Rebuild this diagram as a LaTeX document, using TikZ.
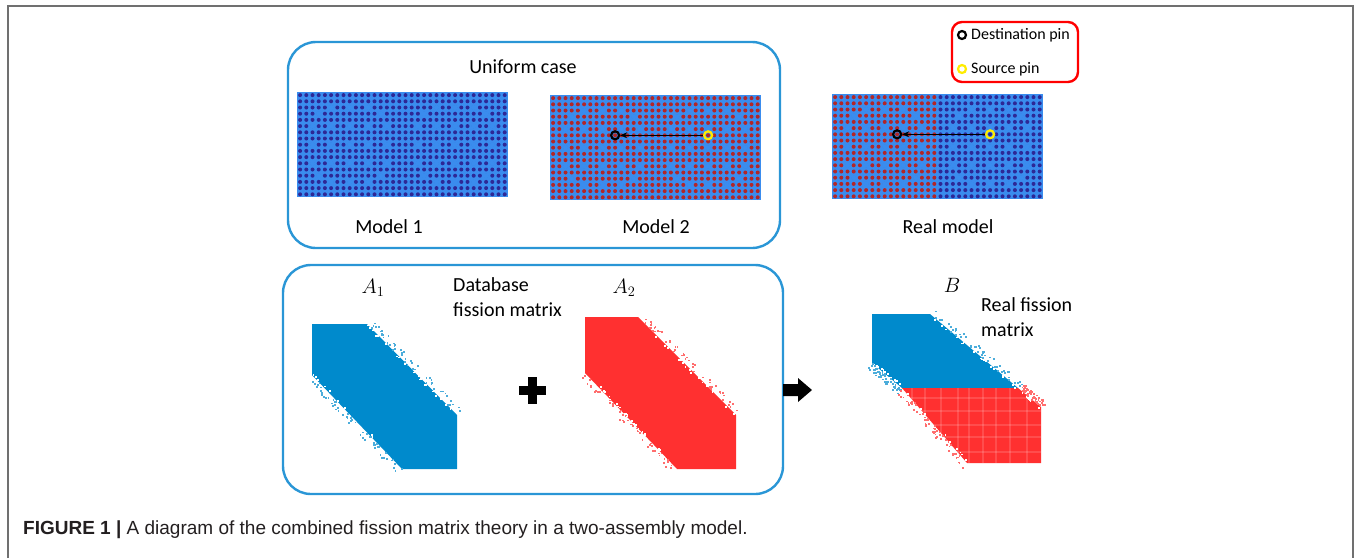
\documentclass[tikz,border=0pt]{standalone}
\usepackage{fontspec}
\setmainfont{Carlito}
\newfontfamily\capfont{Liberation Sans}
\usetikzlibrary{arrows.meta}

\definecolor{boxblue}{RGB}{42,150,214}
\definecolor{latticebg}{RGB}{58,140,238}
\definecolor{pinblue}{RGB}{45,40,150}
\definecolor{pinred}{RGB}{178,38,40}
\definecolor{matblue}{RGB}{0,138,204}
\definecolor{matred}{RGB}{255,48,48}
\definecolor{framegray}{RGB}{112,112,112}
\definecolor{pinyellow}{RGB}{255,236,0}
\definecolor{captext}{RGB}{35,31,32}

\newcommand{\pitch}{6.2}
\newcommand{\guidetubes}{2/5,2/8,2/11,3/3,3/13,5/2,5/5,5/8,5/11,5/14,8/2,8/5,8/8,8/11,8/14,11/2,11/5,11/8,11/11,11/14,13/3,13/13,14/5,14/8,14/11}

% two 17x17 assemblies side by side
\newcommand{\pinlattice}[4]{%
  \begin{scope}[shift={(#1,#2)}]
    \fill[latticebg] (0,0) rectangle ({34*\pitch},{17*\pitch});
    \foreach \r in {0,...,16}{
      \foreach \c in {0,...,16}{
        \fill[#3] ({(\c+0.5)*\pitch},{(\r+0.5)*\pitch}) circle (2pt);
        \fill[#4] ({(\c+17.5)*\pitch},{(\r+0.5)*\pitch}) circle (2pt);
      }}
    \foreach \r/\c in \guidetubes{
      \fill[latticebg] ({(\c+0.5)*\pitch},{(\r+0.5)*\pitch}) circle (2.6pt);
      \fill[latticebg] ({(\c+17.5)*\pitch},{(\r+0.5)*\pitch}) circle (2.6pt);
    }
  \end{scope}}

% ragged edge of a band: x1 y1 x2 y2 sign colour
\newcommand{\speckle}[6]{%
  \foreach \i in {1,...,70}{
    \pgfmathsetmacro\t{rnd}
    \pgfmathsetmacro\d{#5*(rnd*9-2)}
    \pgfmathsetmacro\px{#1+\t*(#3-#1)+\d*0.707}
    \pgfmathsetmacro\py{#2+\t*(#4-#2)-\d*0.707}
    \pgfmathparse{\d*#5>0 ? 1 : 0}
    \ifnum\pgfmathresult=1
      \fill[#6!70] (\px,\py) rectangle ++(1.8,1.8);
    \else
      \fill[white] (\px,\py) rectangle ++(1.8,1.8);
    \fi
  }}

\tikzset{
  groupbox/.style={draw=boxblue, line width=2.4pt, rounded corners=28pt},
  txt/.style={font=\fontsize{20}{25}\selectfont, inner sep=0pt, align=left},
  legtxt/.style={font=\fontsize{16}{18}\selectfont, inner sep=0pt, anchor=west},
  mathtxt/.style={font=\fontsize{20}{22}\selectfont, inner sep=0pt},
  dstpin/.style={circle, draw=black, line width=2.2pt, minimum size=8pt, inner sep=0pt},
  srcpin/.style={circle, draw=pinyellow, line width=2.2pt, minimum size=8pt, inner sep=0pt},
  pinarrow/.style={-{Stealth[length=7pt, width=6pt]}, line width=1.3pt}
}

\begin{document}
\begin{tikzpicture}[x=1pt, y=-1pt]
  \useasboundingbox (0,0) rectangle (1356,558);
  \pgfmathsetseed{7}

  % page frame
  \draw[framegray, line width=1.6pt] (8,558) -- (8,6) -- (1353,6) -- (1353,558);

  % group boxes
  \draw[groupbox] (288,42) rectangle (780,248);
  \draw[groupbox] (283,265) rectangle (783,494);

  % legend
  \draw[red, line width=2.4pt, rounded corners=10pt] (952,22) rectangle (1078,82);
  \node[dstpin] (legdst) at (962,35) {};
  \node[legtxt] (legdsttxt) at (971,35) {Destination pin};
  \node[srcpin] (legsrc) at (962,69) {};
  \node[legtxt] (legsrctxt) at (971,69) {Source pin};

  % lattices
  \node[txt] (uniform) at (523,67) {Uniform case};
  \pinlattice{297}{92}{pinblue}{pinblue}
  \pinlattice{550}{95}{pinred}{pinred}
  \pinlattice{832}{94}{pinred}{pinblue}
  \node[txt] (model1) at (389,227) {Model 1};
  \node[txt] (model2) at (656,227) {Model 2};
  \node[txt] (realmodel) at (948,227) {Real model};

  % source -> destination pins
  \node[dstpin] (dst2) at ({550+10.5*\pitch},{95+6.5*\pitch}) {};
  \node[srcpin] (src2) at ({550+25.5*\pitch},{95+6.5*\pitch}) {};
  \draw[pinarrow] (src2) -- (dst2);
  \node[dstpin] (dstR) at ({832+10.5*\pitch},{94+6.5*\pitch}) {};
  \node[srcpin] (srcR) at ({832+25.5*\pitch},{94+6.5*\pitch}) {};
  \draw[pinarrow] (srcR) -- (dstR);

  % database fission matrices
  \node[mathtxt] (a1) at (373,288) {$A_1$};
  \node[mathtxt] (a2) at (624,288) {$A_2$};
  \node[txt, anchor=west] (database) at (453,297) {Database\\fission matrix};

  \fill[matblue] (312,324) -- (367,324) -- (457,415) -- (457,469) -- (402,469) -- (312,375) -- cycle;
  \speckle{367}{324}{457}{415}{1}{matblue}
  \speckle{312}{375}{402}{469}{-1}{matblue}

  \fill[matred] (585,317) -- (638,317) -- (736,415) -- (736,469) -- (677,469) -- (585,373) -- cycle;
  \speckle{638}{317}{736}{415}{1}{matred}
  \speckle{585}{373}{677}{469}{-1}{matred}

  % plus sign
  \fill[black] (527.5,377) rectangle (536.5,404);
  \fill[black] (518.5,386) rectangle (545.5,395);

  % combine arrow
  \fill[black] (783,384) -- (798,384) -- (798,378) -- (812,390) -- (798,402) -- (798,396) -- (783,396) -- cycle;

  % real fission matrix
  \node[mathtxt] (b) at (952,285) {$B$};
  \node[txt, anchor=west] (realfm) at (981,317) {Real fission\\matrix};

  \fill[matblue] (872,314) -- (930,314) -- (1018,388) -- (902,388) -- (872,363) -- cycle;
  \fill[matred] (902,388) -- (1018,388) -- (1041,407) -- (1041,463) -- (967,463) -- cycle;
  \begin{scope}
    \clip (902,388) -- (1018,388) -- (1041,407) -- (1041,463) -- (967,463) -- cycle;
    \foreach \v in {912,925,941,958,969,983,996,1010,1027}
      \draw[white, opacity=0.14, line width=1.5pt] (\v,388) -- (\v,463);
    \foreach \h in {398,411,425,437,452}
      \draw[white, opacity=0.14, line width=1.5pt] (902,\h) -- (1041,\h);
  \end{scope}
  \speckle{930}{314}{1018}{388}{1}{matblue}
  \speckle{872}{363}{902}{388}{-1}{matblue}
  \speckle{1018}{388}{1041}{407}{1}{matred}
  \speckle{902}{388}{967}{463}{-1}{matred}

  % caption
  \node[inner sep=0pt, anchor=west, text=captext, font=\capfont\fontsize{19}{22}\selectfont] (caption) at (23,530)
    {\textbf{FIGURE 1 |} A diagram of the combined fission matrix theory in a two-assembly model.};
\end{tikzpicture}
\end{document}
